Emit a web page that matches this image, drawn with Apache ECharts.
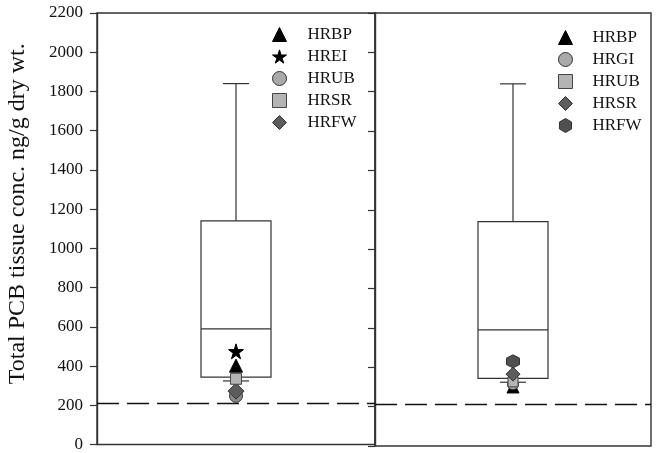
<!DOCTYPE html>
<html>
<head>
<meta charset="utf-8">
<script src="https://cdn.jsdelivr.net/npm/echarts@6/dist/echarts.min.js"></script>
<style>
  html, body { margin: 0; padding: 0; background: #fff; }
  #chart { width: 656px; height: 453px; }
</style>
</head>
<body>
<div id="chart"></div>
<script>
// Box summary: [lower whisker, Q1, median, Q3, upper whisker]
const boxStats = [324, 344, 590, 1140, 1840];
const refLevel = 210;

// Left panel sites and values
const leftNames = ['HRBP', 'HREI', 'HRUB', 'HRSR', 'HRFW'];
const leftValues = [402, 475, 248, 335, 272];

// Right panel sites and values
const rightNames = ['HRBP', 'HRGI', 'HRUB', 'HRSR', 'HRFW'];
const rightValues = [300, 314, 326, 365, 430];

const yTicks = [0, 200, 400, 600, 800, 1000, 1200, 1400, 1600, 1800, 2000, 2200];

const STAR = 'path://M50,0 L61,35 L98,35 L68,57 L79,91 L50,70 L21,91 L32,57 L2,35 L39,35 Z';
const HEX = 'path://M50,0 L93,25 L93,75 L50,100 L7,75 L7,25 Z';

const serif = '"Liberation Serif", "DejaVu Serif", serif';
const lineCol = '#333';

// marker styles per site
const leftStyle = {
  HRBP: { symbol: 'triangle', size: 13, color: '#000', border: '#000' },
  HREI: { symbol: STAR, size: 15, color: '#000', border: '#000' },
  HRUB: { symbol: 'circle', size: 13, color: '#8a8a8a', border: '#333' },
  HRSR: { symbol: 'rect', size: 11, color: '#b4b4b4', border: '#444' },
  HRFW: { symbol: 'diamond', size: 16, color: '#5c5c5c', border: '#333' }
};
const rightStyle = {
  HRBP: { symbol: 'triangle', size: 12, color: '#000', border: '#000' },
  HRGI: { symbol: 'circle', size: 11, color: '#a9a9a9', border: '#333' },
  HRUB: { symbol: 'rect', size: 10, color: '#b4b4b4', border: '#444' },
  HRSR: { symbol: 'diamond', size: 14, color: '#5c5c5c', border: '#333' },
  HRFW: { symbol: HEX, size: 13, color: '#505050', border: '#333' }
};
// legend icons use the lighter key colours
const leftKeyColor = { HRUB: '#a9a9a9' };

// draw order: lowest values first so upper markers sit on top
const leftOrder = ['HRUB', 'HRFW', 'HRSR', 'HRBP', 'HREI'];
const rightOrder = ['HRBP', 'HRGI', 'HRUB', 'HRSR', 'HRFW'];

function boxSeries(idx) {
  return {
    type: 'custom',
    xAxisIndex: idx,
    yAxisIndex: idx,
    silent: true,
    z: 2,
    data: [[0].concat(boxStats)],
    renderItem: function (params, api) {
      const x = api.value(0);
      const lo = api.coord([x, api.value(1)]);
      const q1 = api.coord([x, api.value(2)]);
      const med = api.coord([x, api.value(3)]);
      const q3 = api.coord([x, api.value(4)]);
      const hi = api.coord([x, api.value(5)]);
      const cx = lo[0];
      const hw = 35, cw = 13;
      const st = { stroke: lineCol, lineWidth: 1.2, fill: null };
      return {
        type: 'group',
        children: [
          { type: 'rect', shape: { x: cx - hw, y: q3[1], width: hw * 2, height: q1[1] - q3[1] }, style: { stroke: lineCol, lineWidth: 1.2, fill: '#fff' } },
          { type: 'line', shape: { x1: cx - hw, y1: med[1], x2: cx + hw, y2: med[1] }, style: st },
          { type: 'line', shape: { x1: cx, y1: q3[1], x2: cx, y2: hi[1] }, style: st },
          { type: 'line', shape: { x1: cx - cw, y1: hi[1], x2: cx + cw, y2: hi[1] }, style: st },
          { type: 'line', shape: { x1: cx, y1: q1[1], x2: cx, y2: lo[1] }, style: st },
          { type: 'line', shape: { x1: cx - cw, y1: lo[1], x2: cx + cw, y2: lo[1] }, style: st }
        ]
      };
    }
  };
}

function refLine(idx) {
  return {
    type: 'line',
    xAxisIndex: idx,
    yAxisIndex: idx,
    data: [],
    silent: true,
    z: 1,
    markLine: {
      silent: true,
      symbol: 'none',
      label: { show: false },
      lineStyle: { color: '#111', width: 1.4, type: [22, 8] },
      data: [{ yAxis: refLevel }]
    }
  };
}

function pointSeries(idx, names, values, styles, order) {
  return order.map(function (n) {
    const s = styles[n];
    return {
      type: 'scatter',
      name: n,
      xAxisIndex: idx,
      yAxisIndex: idx,
      z: 5,
      symbol: s.symbol,
      symbolSize: s.size,
      itemStyle: { color: s.color, borderColor: s.border, borderWidth: 1, opacity: 1 },
      data: [[0, values[names.indexOf(n)]]]
    };
  });
}

function legendFor(names, styles, keyColors, left, top, textPad) {
  return {
    orient: 'vertical',
    left: left,
    top: top,
    itemWidth: 14,
    itemHeight: 14,
    itemGap: 5,
    selectedMode: false,
    textStyle: { fontFamily: serif, fontSize: 17, color: '#111', padding: [0, 0, 0, textPad] },
    data: names.map(function (n) {
      const s = styles[n];
      return {
        name: n,
        icon: s.symbol,
        itemStyle: { color: keyColors[n] || s.color, borderColor: s.border, borderWidth: 1 }
      };
    })
  };
}

const yBase = {
  type: 'value',
  min: 0,
  max: 2200,
  interval: 200,
  splitLine: { show: false },
  axisLine: { show: true, lineStyle: { color: lineCol, width: 1.4 } },
  axisTick: { show: true, inside: false, length: 7, lineStyle: { color: lineCol, width: 1.2 } }
};

const chart = echarts.init(document.getElementById('chart'));
chart.setOption({
  animation: false,
  backgroundColor: '#fff',
  grid: [
    { left: 97, top: 13, width: 278, height: 433, show: true, borderColor: lineCol, borderWidth: 1.4, backgroundColor: 'transparent' },
    { left: 375, top: 13, width: 276, height: 433, show: true, borderColor: lineCol, borderWidth: 1.4, backgroundColor: 'transparent' }
  ],
  legend: [
    legendFor(leftNames, leftStyle, leftKeyColor, 267, 21, 16),
    legendFor(rightNames, rightStyle, {}, 553, 24, 15)
  ],
  xAxis: [0, 1].map(function (i) {
    return {
      type: 'category',
      gridIndex: i,
      data: [''],
      axisLine: { show: false },
      axisTick: { show: false },
      axisLabel: { show: false }
    };
  }),
  yAxis: [
    Object.assign({}, yBase, {
      gridIndex: 0,
      name: 'Total PCB tissue conc. ng/g dry wt.',
      nameLocation: 'middle',
      nameGap: 67,
      nameTextStyle: { fontFamily: serif, fontSize: 24, color: '#111', padding: [0, 0, 0, 30] },
      axisLabel: {
        show: true,
        margin: 14,
        fontFamily: serif,
        fontSize: 17,
        color: '#111',
        formatter: function (v) { return yTicks.indexOf(v) >= 0 ? String(v) : ''; }
      }
    }),
    Object.assign({}, yBase, {
      gridIndex: 1,
      axisLabel: { show: false }
    })
  ],
  series: [boxSeries(0), boxSeries(1), refLine(0), refLine(1)]
    .concat(pointSeries(0, leftNames, leftValues, leftStyle, leftOrder))
    .concat(pointSeries(1, rightNames, rightValues, rightStyle, rightOrder))
});
</script>
</body>
</html>
